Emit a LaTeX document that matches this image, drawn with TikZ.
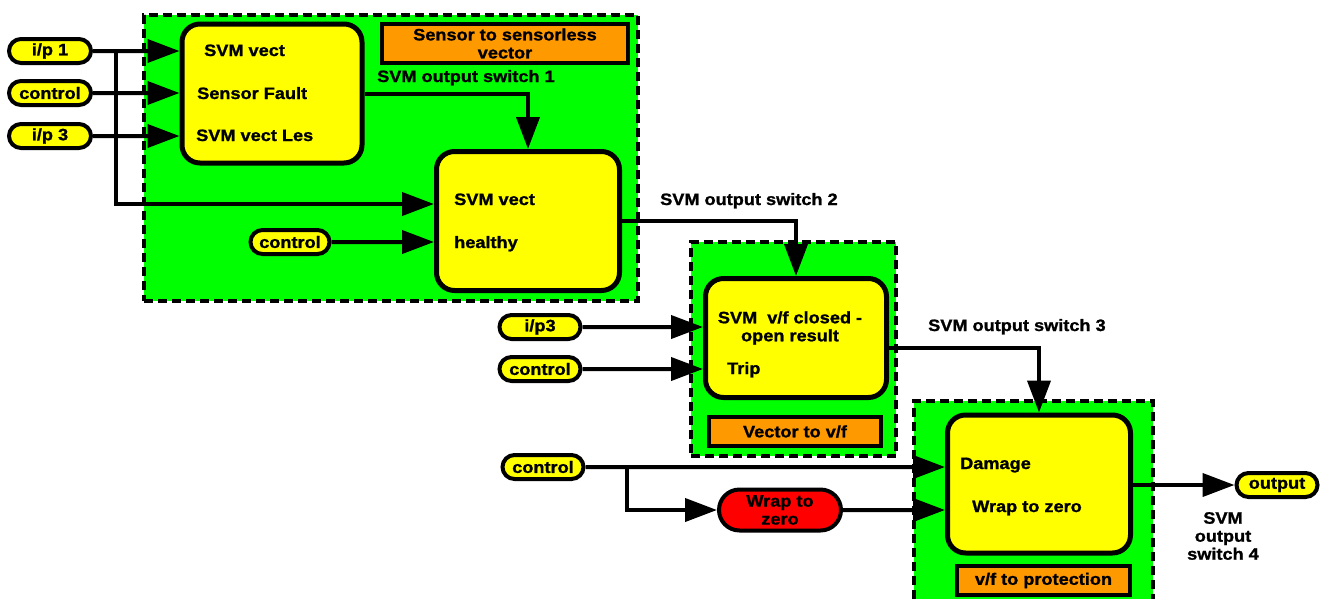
\documentclass[tikz,border=0pt]{standalone}
\usepackage{fontspec}
\setmainfont{Liberation Sans}[FakeStretch=1.1,FakeBold=1.2]
\usetikzlibrary{arrows.meta,shapes.misc}
\definecolor{zone}{RGB}{0,255,0}
\definecolor{blockfill}{RGB}{255,255,0}
\definecolor{tagfill}{RGB}{255,153,0}
\definecolor{alarm}{RGB}{255,0,0}
\begin{document}
\begin{tikzpicture}[x=1pt,y=-1pt,
  txt/.style={font=\fontsize{16.5}{18}\selectfont\bfseries, inner sep=0pt},
  lbl/.style={txt, anchor=west, text height=12pt, text depth=0pt},
  zonebox/.style={draw=black, fill=zone, line width=4pt, dash pattern=on 9pt off 5pt, inner sep=0pt},
  block/.style={draw=black, fill=blockfill, line width=5pt, rounded corners=18pt, inner sep=0pt},
  tag/.style={txt, draw=black, fill=tagfill, line width=4.5pt, align=center},
  pill/.style={txt, rounded rectangle, draw=black, fill=blockfill, line width=4pt, minimum height=24pt},
  redpill/.style={txt, rounded rectangle, draw=black, fill=alarm, line width=4pt, align=center},
  wire/.style={line width=4pt, -{Triangle[length=32pt,width=23pt]}}]
\useasboundingbox (0,0) rectangle (1323,598);
\clip (0,0) rectangle (1323,598);

% dashed green zones
\node[zonebox, minimum width=494pt, minimum height=286pt] (z1) at (391,158) {};
\node[zonebox, minimum width=205pt, minimum height=214pt] (z2) at (793.5,349) {};
\node[zonebox, minimum width=239pt, minimum height=215pt] (z3) at (1033.5,508.5) {};

% orange captions
\node[tag, minimum width=246pt, minimum height=39pt] (t1) at (505,43.5) {Sensor to sensorless\\vector};
\node[tag, minimum width=172pt, minimum height=29pt] (t2) at (795,431.5) {Vector to v/f};
\node[tag, minimum width=173pt, minimum height=29pt] (t3) at (1043.5,580.5) {v/f to protection};

% yellow blocks
\node[block, minimum width=180pt, minimum height=139pt] (A) at (272,93.5) {};
\node[block, minimum width=183pt, minimum height=139pt] (B) at (528,221) {};
\node[block, minimum width=181pt, minimum height=119pt] (C) at (796,338) {};
\node[block, minimum width=183pt, minimum height=138pt] (D) at (1039,484) {};

% block texts
\node[lbl] (a1) at (204,50) {SVM vect};
\node[lbl] (a2) at (197,93) {Sensor Fault};
\node[lbl] (a3) at (196,135) {SVM vect Les};
\node[lbl] (b1) at (454,199) {SVM vect};
\node[lbl] (b2) at (454,242) {healthy};
\node[txt, align=center] (c1) at (790,328) {SVM~ v/f closed -\\open result};
\node[lbl] (c2) at (727,368) {Trip};
\node[lbl] (d1) at (960,463) {Damage};
\node[lbl] (d2) at (972,506) {Wrap to zero};

% switch labels
\node[lbl] (s1) at (377,76) {SVM output switch 1};
\node[lbl] (s2) at (660,199) {SVM output switch 2};
\node[lbl] (s3) at (928,325) {SVM output switch 3};
\node[txt, align=center] (s4) at (1223,536) {SVM\\output\\switch 4};

% input / output terminals
\node[pill, minimum width=82pt] (ip1) at (50,51) {i/p 1};
\node[pill, minimum width=82pt] (ctl1) at (50,93) {control};
\node[pill, minimum width=82pt] (ip3) at (50,136) {i/p 3};
\node[pill, minimum width=79pt] (ctl2) at (290,242) {control};
\node[pill, minimum width=81pt] (ip3b) at (540,327) {i/p3};
\node[pill, minimum width=81pt] (ctl3) at (540,369) {control};
\node[pill, minimum width=81pt] (ctl4) at (543,467) {control};
\node[pill, minimum width=81pt] (out) at (1277,485) {output};
\node[redpill, minimum width=122pt, minimum height=41pt] (wz) at (780,510) {Wrap to\\zero};

% junctions
\coordinate (j1) at (116,51);
\coordinate (j2) at (627,467);

% connectors
\draw[wire] (ip1) -- (ip1 -| A.west);
\draw[wire] (ctl1) -- (ctl1 -| A.west);
\draw[wire] (ip3) -- (ip3 -| A.west);
\draw[wire] (j1) |- ([yshift=17pt]B.west);
\draw[wire] (ctl2) -- (ctl2 -| B.west);
\draw[wire] (A.east) -| (B.north);
\draw[wire] (B.east) -| (C.north);
\draw[wire] (ip3b) -- (ip3b -| C.west);
\draw[wire] (ctl3) -- (ctl3 -| C.west);
\draw[wire] ([yshift=-10pt]C.east) -| (D.north);
\draw[wire] (ctl4) -- (ctl4 -| D.west);
\draw[wire] (j2) |- (wz);
\draw[wire] (wz) -- (wz -| D.west);
\draw[wire] (D.east |- out.west) -- (out.west);
\end{tikzpicture}
\end{document}
